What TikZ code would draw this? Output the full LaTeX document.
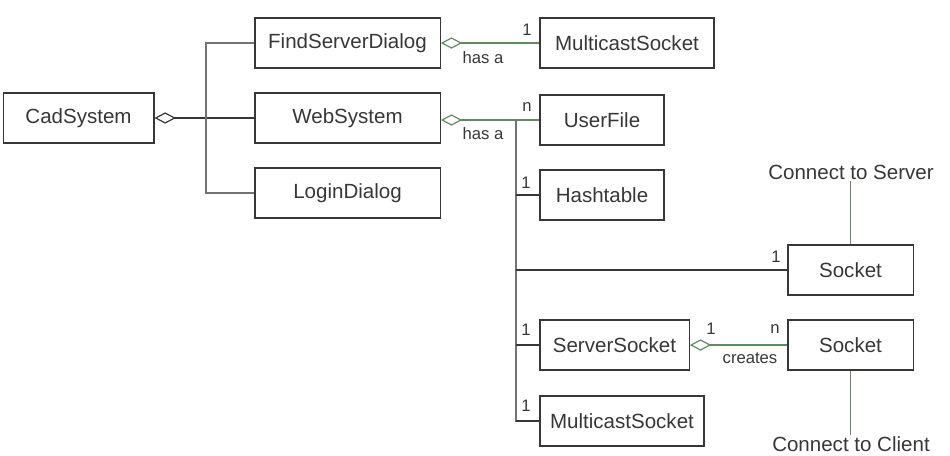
\documentclass[tikz,border=0pt]{standalone}
\usepackage{fontspec}
\setmainfont{Liberation Sans}
\usetikzlibrary{arrows.meta}
\definecolor{boxgray}{RGB}{55,55,55}
\definecolor{busgray}{RGB}{115,115,115}
\definecolor{relgreen}{RGB}{95,140,95}
\tikzset{
  cls/.style={draw=boxgray,line width=1pt,text=boxgray,minimum height=37.5pt,inner sep=0pt,
    font=\fontsize{15.4}{18}\selectfont},
  link/.style={draw=boxgray,line width=1pt},
  bus/.style={draw=busgray,line width=1.2pt},
  rel/.style={draw=relgreen,line width=1pt},
  agg/.style={{Diamond[open,length=16pt,width=8.5pt,line width=0.9pt]}-},
  mult/.style={text=boxgray,font=\fontsize{12.5}{14}\selectfont,inner sep=1pt},
  note/.style={text=boxgray,font=\fontsize{15.4}{18}\selectfont,inner sep=1pt}
}
\begin{document}
\begin{tikzpicture}[x=0.75pt,y=-0.75pt]
    \useasboundingbox (0,0) rectangle (950,455);

    % Classes
    \node[cls,minimum width=113pt] (cad) at (78.5,118) {CadSystem};
    \node[cls,minimum width=139pt] (find) at (347.5,43) {FindServerDialog};
    \node[cls,minimum width=139pt] (web) at (347.5,118) {WebSystem};
    \node[cls,minimum width=139pt] (login) at (347.5,193) {LoginDialog};
    \node[cls,minimum width=130.5pt] (mcast) at (627,43) {MulticastSocket};
    \node[cls,minimum width=93pt] (user) at (602,120) {UserFile};
    \node[cls,minimum width=93pt] (hash) at (602,195) {Hashtable};
    \node[cls,minimum width=94pt] (sock) at (850.5,270) {Socket};
    \node[cls,minimum width=112pt] (srv) at (614.5,345) {ServerSocket};
    \node[cls,minimum width=94pt] (csock) at (850.5,345) {Socket};
    \node[cls,minimum width=123pt] (mcast2) at (622,421) {MulticastSocket};

    % Notes
    \node[note] (toserver) at (851,172) {Connect to Server};
    \node[note] (toclient) at (851,444) {Connect to Client};

    % CadSystem aggregation
    \coordinate (cbus) at (206,118);
    \draw[link,agg] (cad.east) -- (web.west);
    \draw[bus] (find.west) -- (find.west -| cbus) |- (login.west);

    % FindServerDialog has a MulticastSocket
    \draw[rel,agg] (find.east) -- (mcast.west);
    \node[mult] at (483,58) {has a};
    \node[mult] at (527,30) {1};

    % WebSystem has a ...
    \coordinate (wbus) at (516,120);
    \draw[rel,agg] (web.east |- user.west) -- (user.west);
    \node[mult] at (483,134) {has a};
    \node[mult] at (527,107) {n};
    \draw[bus] (wbus) |- (mcast2.west);
    \draw[link] (wbus |- hash.west) -- (hash.west);
    \draw[link] (wbus |- sock.west) -- (sock.west);
    \draw[link] (wbus |- srv.west) -- (srv.west);
    \draw[link] (wbus |- mcast2.west) -- (mcast2.west);
    \node[mult] at (526,183) {1};
    \node[mult] at (776,257) {1};
    \node[mult] at (526,330) {1};
    \node[mult] at (526,406) {1};

    % ServerSocket creates Socket
    \draw[rel,agg] (srv.east) -- (csock.west);
    \node[mult] at (711,329) {1};
    \node[mult] at (775,329) {n};
    \node[mult] at (750,358) {creates};

    % Connections
    \draw[rel] (sock.north) -- (sock.north |- toserver.south);
    \draw[rel] (csock.south) -- (csock.south |- toclient.north);
\end{tikzpicture}
\end{document}
